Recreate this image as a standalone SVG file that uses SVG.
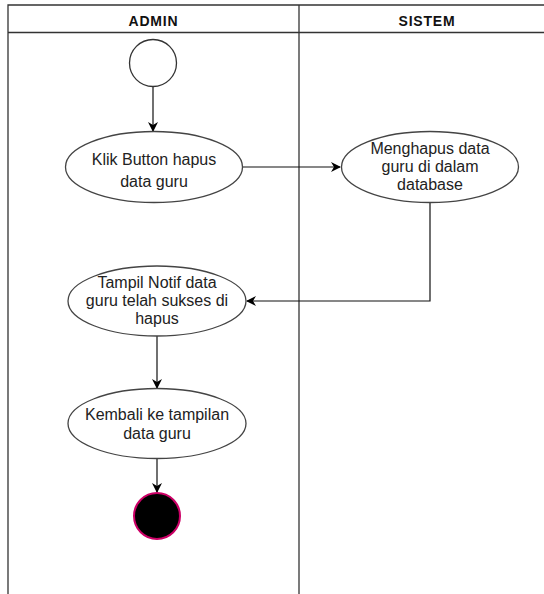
<svg xmlns="http://www.w3.org/2000/svg" width="544" height="594" viewBox="0 0 544 594">
  <defs>
    <marker id="arrow" viewBox="0 0 10 10" refX="9" refY="5" markerWidth="10" markerHeight="10" markerUnits="userSpaceOnUse" orient="auto">
      <path d="M0,0 L10,5 L0,10 L3,5 Z" fill="#000"/>
    </marker>
    <style>
      .lane { fill: none; stroke: #333; stroke-width: 1.3; }
      .hdr { font-family: "Liberation Sans", Arial, sans-serif; font-size: 14px; font-weight: bold; letter-spacing: 0.8px; fill: #111; text-anchor: middle; }
      .act { fill: #fff; stroke: #444; stroke-width: 1.3; }
      .lbl { font-family: "Liberation Sans", Arial, sans-serif; font-size: 16px; fill: #222; text-anchor: middle; }
      .conn { fill: none; stroke: #111; stroke-width: 1.2; marker-end: url(#arrow); }
    </style>
  </defs>
  <rect width="544" height="594" fill="#fff"/>

  <g id="swimlanes">
    <path class="lane" d="M8,600 L8,5 L560,5"/>
    <line class="lane" x1="8" y1="32.5" x2="560" y2="32.5"/>
    <line class="lane" x1="299" y1="5" x2="299" y2="600"/>
    <text class="hdr" x="153.5" y="26">ADMIN</text>
    <text class="hdr" x="427" y="26">SISTEM</text>
  </g>

  <g id="connectors">
    <line class="conn" x1="153" y1="87" x2="153" y2="131"/>
    <line class="conn" x1="243" y1="167" x2="340" y2="167"/>
    <path class="conn" d="M430,202.5 L430,301 L247,301"/>
    <line class="conn" x1="157" y1="336" x2="157" y2="388"/>
    <line class="conn" x1="157" y1="458.5" x2="157" y2="492"/>
  </g>

  <g id="start">
    <circle cx="153" cy="63" r="23.5" fill="#fff" stroke="#333" stroke-width="1.3"/>
  </g>

  <g id="klik-button">
    <ellipse class="act" cx="154" cy="167" rx="88.5" ry="35.5"/>
    <text class="lbl" x="154" y="164.5">Klik Button hapus</text>
    <text class="lbl" x="154" y="186.5">data guru</text>
  </g>

  <g id="menghapus">
    <ellipse class="act" cx="430" cy="167" rx="88.5" ry="35.5"/>
    <text class="lbl" x="430" y="153.5">Menghapus data</text>
    <text class="lbl" x="430" y="172">guru di dalam</text>
    <text class="lbl" x="430" y="190">database</text>
  </g>

  <g id="tampil-notif">
    <ellipse class="act" cx="157" cy="301" rx="89" ry="35"/>
    <text class="lbl" x="157" y="288">Tampil Notif data</text>
    <text class="lbl" x="157" y="306">guru telah sukses di</text>
    <text class="lbl" x="157" y="324">hapus</text>
  </g>

  <g id="kembali">
    <ellipse class="act" cx="157" cy="423.5" rx="89" ry="35"/>
    <text class="lbl" x="157" y="420">Kembali ke tampilan</text>
    <text class="lbl" x="157" y="438.5">data guru</text>
  </g>

  <g id="end">
    <circle cx="157" cy="516" r="23" fill="#000" stroke="#cc0066" stroke-width="2"/>
  </g>
</svg>
